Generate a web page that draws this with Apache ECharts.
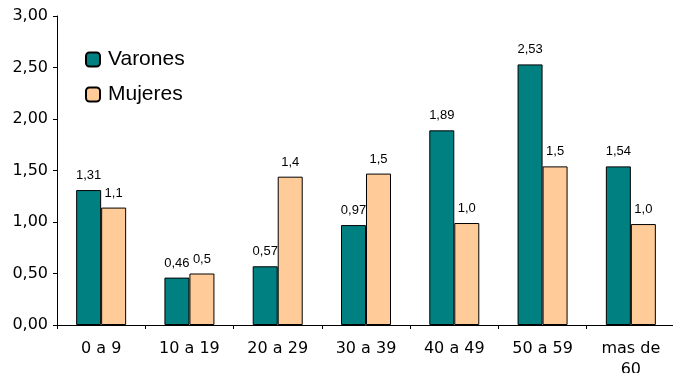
<!DOCTYPE html>
<html>
<head>
<meta charset="utf-8">
<script src="https://cdn.jsdelivr.net/npm/echarts@6/dist/echarts.min.js"></script>
<style>
  html, body { margin: 0; padding: 0; background: #fff; }
  #chart { width: 673px; height: 373px; }
</style>
</head>
<body>
<div id="chart"></div>
<script>
// Age groups and rates per sex
const categories = ['0 a 9', '10 a 19', '20 a 29', '30 a 39', '40 a 49', '50 a 59', 'mas de\n60'];
const varones = [1.31, 0.46, 0.57, 0.97, 1.89, 2.53, 1.54];
const mujeres = [1.14, 0.50, 1.44, 1.47, 0.99, 1.54, 0.98];
const yTicks = { min: 0, max: 3, interval: 0.5 };

const comma = s => s.replace('.', ',');
const axisFont = 'DejaVu Sans, Liberation Sans, sans-serif';

const chart = echarts.init(document.getElementById('chart'));
chart.setOption({
  animation: false,
  backgroundColor: '#ffffff',
  textStyle: { fontFamily: 'Liberation Sans, Arial, sans-serif' },
  grid: { left: 57, top: 16, bottom: 48, width: 618, outerBoundsMode: 'none', containLabel: false },
  legend: {
    orient: 'vertical',
    left: 80,
    top: 44,
    itemWidth: 14,
    itemHeight: 14,
    itemGap: 14,
    textStyle: { fontSize: 21, color: '#000', padding: [0, 0, 0, 3], fontFamily: 'Liberation Sans, Arial, sans-serif' },
    data: ['Varones', 'Mujeres']
  },
  xAxis: {
    type: 'category',
    data: categories,
    axisLine: { lineStyle: { color: '#000', width: 1 } },
    axisTick: { show: true, length: 4, alignWithLabel: false, lineStyle: { color: '#000' } },
    axisLabel: {
      color: '#000',
      fontSize: 16,
      fontFamily: axisFont,
      margin: 13,
      lineHeight: 21,
      interval: 0
    }
  },
  yAxis: {
    type: 'value',
    min: yTicks.min,
    max: yTicks.max,
    interval: yTicks.interval,
    splitLine: { show: false },
    axisLine: { show: true, lineStyle: { color: '#000', width: 1 } },
    axisTick: { show: true, length: 4, lineStyle: { color: '#000' } },
    axisLabel: {
      color: '#000',
      fontSize: 16,
      fontFamily: axisFont,
      margin: 9,
      formatter: v => comma(v.toFixed(2))
    }
  },
  series: [
    {
      name: 'Varones',
      type: 'bar',
      data: varones,
      barWidth: 25,
      barGap: '0%',
      itemStyle: { color: '#008080', borderColor: '#000', borderWidth: 1 },
      label: {
        show: true,
        position: 'top',
        distance: 8,
        color: '#000',
        fontSize: 13,
        formatter: p => comma(p.value.toFixed(2))
      }
    },
    {
      name: 'Mujeres',
      type: 'bar',
      data: mujeres,
      barWidth: 25,
      barGap: '0%',
      itemStyle: { color: '#FFCC99', borderColor: '#000', borderWidth: 1 },
      label: {
        show: true,
        position: 'top',
        distance: 8,
        color: '#000',
        fontSize: 13,
        formatter: p => comma(p.value.toFixed(1))
      }
    }
  ]
});
</script>
</body>
</html>
